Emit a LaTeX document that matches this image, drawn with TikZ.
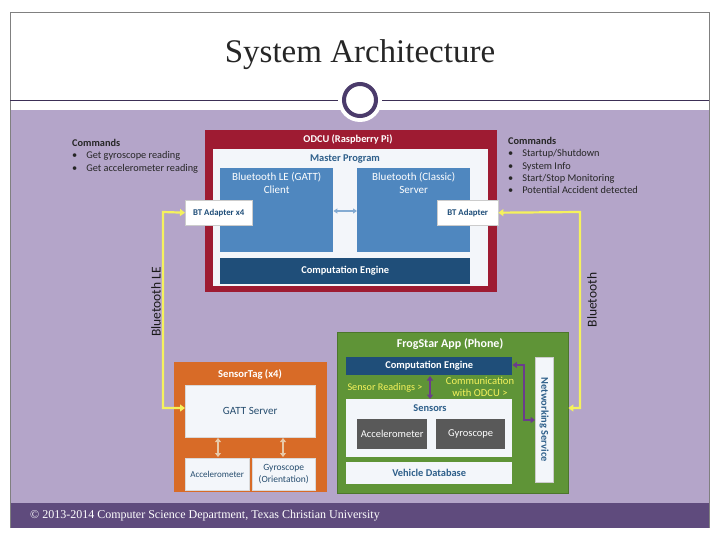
\documentclass[tikz,border=0pt]{standalone}
\usepackage{fontspec}
\setmainfont{Carlito}
\newfontfamily\timesf{Liberation Serif}
\usetikzlibrary{arrows.meta}
\definecolor{bgpurple}{HTML}{B4A5C9}
\definecolor{footpurple}{HTML}{5F4B7D}
\definecolor{ringpurple}{HTML}{4B3B6B}
\definecolor{odcured}{HTML}{9E1B32}
\definecolor{innerwhite}{HTML}{F3F6FA}
\definecolor{boxblue}{HTML}{4F87BF}
\definecolor{navy}{HTML}{1F4E79}
\definecolor{textblue}{HTML}{2E5F8A}
\definecolor{orangebox}{HTML}{D86B27}
\definecolor{greenbox}{HTML}{5F9437}
\definecolor{btyellow}{HTML}{F5F25C}
\definecolor{arrpurple}{HTML}{6B3C8C}
\definecolor{graybox}{HTML}{595959}
\definecolor{tanarrow}{HTML}{E8C9A8}
\definecolor{framegray}{HTML}{808080}
\tikzset{
  box/.style={draw=none, inner sep=0pt, anchor=north west},
  lbl/.style={inner sep=0pt, font=\fontsize{10.4}{12}\selectfont\bfseries},
  reg/.style={inner sep=0pt, font=\fontsize{10.5}{12.5}\selectfont},
  yarrow/.style={btyellow, line width=2.2pt, {Triangle[width=7pt,length=5pt]}-{Triangle[width=7pt,length=5pt]}},
  parrow/.style={arrpurple, line width=1.8pt, {Triangle[width=6pt,length=4.5pt]}-{Triangle[width=6pt,length=4.5pt]}},
  tarrow/.style={tanarrow, line width=2pt, {Triangle[width=6pt,length=4pt]}-{Triangle[width=6pt,length=4pt]}},
  barrow/.style={boxblue!70!white, line width=1.6pt, {Triangle[width=5pt,length=4pt]}-{Triangle[width=5pt,length=4pt]}},
  cmds/.style={anchor=north west, inner sep=0pt, align=left, font=\fontsize{10.3}{12.3}\selectfont, text=black!85},
}
\begin{document}
\begin{tikzpicture}[x=1pt,y=-1pt]
\useasboundingbox (0,0) rectangle (720,540);
\fill[white] (0,0) rectangle (720,540);
% frame
\fill[bgpurple] (10,110) rectangle (709,503);
\fill[footpurple] (10,503) rectangle (709,528);
\draw[framegray, line width=0.6pt] (10,528) -- (10,12) -- (709,12) -- (709,528);
\draw[ringpurple!80!black, line width=0.8pt] (10,100) -- (709,100);
\node[font=\timesf\fontsize{33}{36}\selectfont, text=black!85] (title) at (360,55) {System Architecture};
\fill[white] (360,100) circle (22);
\draw[ringpurple, line width=4pt, fill=white] (360,100) circle (16);
\node[anchor=west, font=\timesf\fontsize{12}{14}\selectfont, text=white, inner sep=0pt] (foot) at (30,516) {\textcopyright{} 2013-2014 Computer Science Department, Texas Christian University};

% ODCU
\node[box, fill=odcured, minimum width=292pt, minimum height=162pt] (odcu) at (205,130) {};
\node[box, fill=innerwhite, minimum width=275pt, minimum height=137pt] (odcuin) at (213,149) {};
\node[lbl, text=white] (odcut) at (348,139) {ODCU (Raspberry Pi)};
\node[lbl, text=textblue] (mp) at (345,159) {Master Program};
\node[box, fill=boxblue, minimum width=113pt, minimum height=84pt] (blel) at (220,168) {};
\node[reg, text=white, align=center, anchor=north, font=\fontsize{11}{13}\selectfont] (blelt) at (blel.north) [yshift=-4pt] {Bluetooth LE (GATT)\\Client};
\node[box, fill=boxblue, minimum width=113pt, minimum height=84pt] (bcl) at (357,168) {};
\node[reg, text=white, align=center, anchor=north, font=\fontsize{11}{13}\selectfont] (bclt) at (bcl.north) [yshift=-4pt] {Bluetooth (Classic)\\Server};
\draw[barrow] (blel.east |- 0,211) -- (bcl.west |- 0,211);
\node[box, fill=navy, minimum width=250pt, minimum height=26pt] (ce1) at (220,258) {};
\node[lbl, text=white] (ce1t) at (ce1.center) {Computation Engine};
\node[box, fill=white, draw=gray!40, minimum width=67pt, minimum height=25pt] (btl) at (185,200) {};
\node[lbl, text=navy, font=\fontsize{8.8}{10}\selectfont\bfseries] (btlt) at (btl.center) {BT Adapter x4};
\node[box, fill=white, draw=gray!40, minimum width=61pt, minimum height=25pt] (btr) at (437,200) {};
\node[lbl, text=navy, font=\fontsize{8.8}{10}\selectfont\bfseries] (btrt) at (btr.center) {BT Adapter};

% Commands
\node[cmds] (cmdl) at (72,139)
  {\textbf{Commands}\\ \textbullet\hspace{9pt}Get gyroscope reading\\ \textbullet\hspace{9pt}Get accelerometer reading};
\node[cmds] (cmdr) at (508,137)
  {\textbf{Commands}\\ \textbullet\hspace{9pt}Startup/Shutdown\\ \textbullet\hspace{9pt}System Info\\ \textbullet\hspace{9pt}Start/Stop Monitoring\\ \textbullet\hspace{9pt}Potential Accident detected};

% SensorTag
\node[box, fill=orangebox, minimum width=153pt, minimum height=130pt] (st) at (174,362) {};
\node[lbl, text=white, font=\fontsize{10.6}{12}\selectfont\bfseries] (stt) at (250,374) {SensorTag (x4)};
\node[box, fill=innerwhite, draw=gray!30, minimum width=130pt, minimum height=52pt] (gatt) at (185,385) {};
\node[reg, text=textblue!80!black, font=\fontsize{11}{13}\selectfont] (gattt) at (gatt.center) {GATT Server};
\node[box, fill=innerwhite, draw=gray!30, minimum width=64pt, minimum height=32pt] (acc1) at (185,458) {};
\node[reg, text=textblue!80!black, font=\fontsize{9}{11}\selectfont] (acc1t) at (acc1.center) {Accelerometer};
\node[box, fill=innerwhite, draw=gray!30, minimum width=63pt, minimum height=32pt] (gyr1) at (252,458) {};
\node[reg, text=textblue!80!black, align=center, font=\fontsize{9.5}{12}\selectfont] (gyr1t) at (gyr1.center) {Gyroscope\\(Orientation)};
\draw[tarrow] (218,438) -- (218,457);
\draw[tarrow] (283,438) -- (283,457);

% FrogStar
\node[box, fill=greenbox, draw=greenbox!80!black, minimum width=231pt, minimum height=161pt] (fs) at (337,332) {};
\node[lbl, text=white, font=\fontsize{12}{14}\selectfont\bfseries] (fst) at (450,344) {FrogStar App (Phone)};
\node[box, fill=navy, minimum width=166pt, minimum height=18pt] (ce2) at (346,357) {};
\node[lbl, text=white] (ce2t) at (ce2.center) {Computation Engine};
\node[reg, text=btyellow, font=\fontsize{10.2}{12}\selectfont] (sr) at (385,388) {Sensor Readings >};
\node[reg, text=btyellow, align=center, font=\fontsize{10.6}{12.5}\selectfont] (cw) at (480,387) {Communication\\with ODCU >};
\node[box, fill=innerwhite, minimum width=166pt, minimum height=58pt] (sens) at (346,399) {};
\node[lbl, text=textblue] (senst) at (430,408) {Sensors};
\draw[parrow] (430,376) -- (sens.north -| 430,0);
\node[box, fill=graybox, minimum width=70pt, minimum height=30pt] (acc2) at (357,419) {};
\node[reg, text=white] (acc2t) at (acc2.center) {Accelerometer};
\node[box, fill=graybox, minimum width=69pt, minimum height=30pt] (gyr2) at (436,419) {};
\node[reg, text=white] (gyr2t) at (gyr2.center) {Gyroscope};
\node[box, fill=innerwhite, minimum width=166pt, minimum height=22pt] (vdb) at (346,462) {};
\node[lbl, text=textblue] (vdbt) at (vdb.center) {Vehicle Database};
\node[box, fill=innerwhite, draw=gray!40, minimum width=18pt, minimum height=125pt] (net) at (535,357) {};
\node[lbl, text=textblue, rotate=-90] (nett) at (net.center) {Networking Service};
\draw[parrow] (ce2.east |- 0,365) -- (524,365) |- (net.west |- 0,420);

% Bluetooth connectors
\draw[yarrow] (btl.west) -- (163,212) |- (gatt.west |- 0,408);
\draw[yarrow] (btr.east) -- (580,212) |- (fs.east |- 0,408);
\node[rotate=90, inner sep=0pt, font=\fontsize{13.5}{15}\selectfont, text=black!90] (ble) at (156,302) {Bluetooth LE};
\node[rotate=90, inner sep=0pt, font=\fontsize{13.5}{15}\selectfont, text=black!90] (bt) at (592,300) {Bluetooth};
\end{tikzpicture}
\end{document}
